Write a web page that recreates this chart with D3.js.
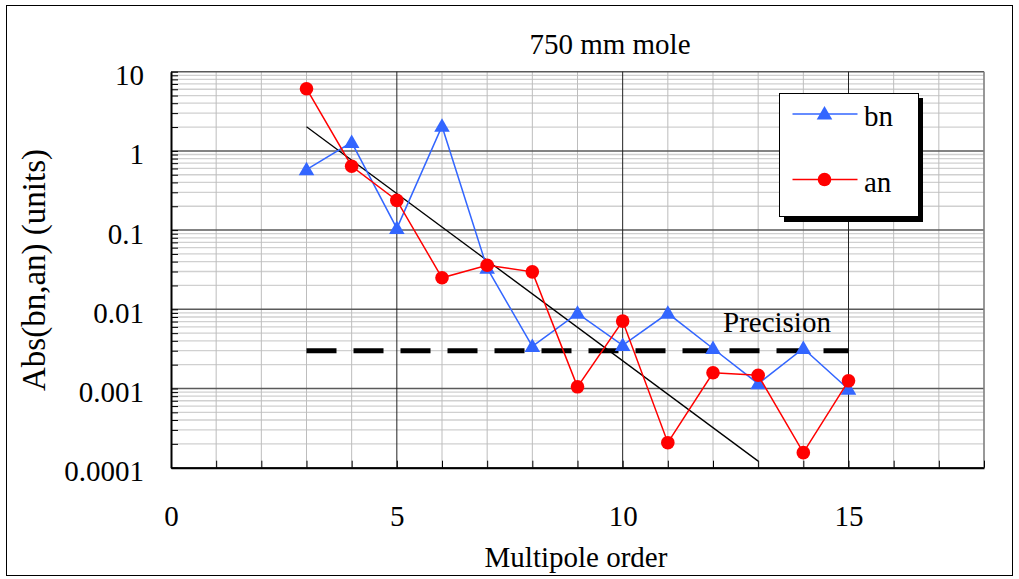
<!DOCTYPE html>
<html>
<head>
<meta charset="utf-8">
<script src="https://cdn.jsdelivr.net/npm/d3@7"></script>
</head>
<body style="margin:0">
<svg id="chart" width="1019" height="579"></svg>
<script>
// ---- data ----
const orders = [3, 4, 5, 6, 7, 8, 9, 10, 11, 12, 13, 14, 15];
const bn = [0.58, 1.28, 0.105, 2.05, 0.033, 0.0034, 0.0089, 0.0035, 0.0089, 0.0032, 0.00115, 0.0032, 0.00098];
const an = [6.1, 0.64, 0.237, 0.025, 0.036, 0.0297, 0.00105, 0.0071, 0.000207, 0.00158, 0.00147, 0.000155, 0.00125];
const fitX = [3, 13];
const fitY = [2.02, 0.000121];
const precisionX = [3, 15];
const precisionY = [0.003, 0.003];
const xTickValues = d3.range(0, 19);
const xTickLabels = ["0", "5", "10", "15"];
const yDecades = [0.0001, 0.001, 0.01, 0.1, 1, 10];
const yTickLabels = ["0.0001", "0.001", "0.01", "0.1", "1", "10"];
const title = "750 mm mole";
const xTitle = "Multipole order";
const yTitle = "Abs(bn,an) (units)";
const seriesNames = ["bn", "an"];

// ---- layout ----
const FONT = "Liberation Serif";
const svg = d3.select("#chart");
const L = 171, R = 984, T = 71.7, B = 467.7;
const x = d3.scaleLinear().domain([0, 18]).range([L, R]);
const y = d3.scaleLog().domain([0.0001, 10]).range([B, T]);
const FS = 29;
const blue = "#3366ff", red = "#ff0000";

function txt(sel, fs) {
  return sel.style("font-family", FONT).attr("font-size", fs || FS).attr("fill", "#000");
}

// outer frame
svg.append("rect").attr("x", 6.5).attr("y", 5.5).attr("width", 1006).attr("height", 570)
  .attr("fill", "#fff").attr("stroke", "#000").attr("stroke-width", 1);

// minor y values
const yMinor = [];
for (let e = -4; e < 1; e++) for (let k = 2; k <= 9; k++) yMinor.push(k * Math.pow(10, e));

const grid = svg.append("g");
grid.selectAll("line.hmin").data(yMinor).enter().append("line")
  .attr("x1", L).attr("x2", R).attr("y1", d => y(d)).attr("y2", d => y(d))
  .attr("stroke", "#d0d0d0").attr("stroke-width", 1.3);
grid.selectAll("line.vmin").data(xTickValues.filter(d => d % 5 !== 0)).enter().append("line")
  .attr("x1", d => x(d)).attr("x2", d => x(d)).attr("y1", T).attr("y2", B)
  .attr("stroke", "#bdbdbd").attr("stroke-width", 1);
grid.selectAll("line.hmaj").data(yDecades).enter().append("line")
  .attr("x1", L).attr("x2", R).attr("y1", d => y(d)).attr("y2", d => y(d))
  .attr("stroke", "#5a5a5a").attr("stroke-width", 1.5);
grid.selectAll("line.vmaj").data([5, 10, 15]).enter().append("line")
  .attr("x1", d => x(d)).attr("x2", d => x(d)).attr("y1", T).attr("y2", B)
  .attr("stroke", "#222").attr("stroke-width", 1);
grid.append("line").attr("x1", R).attr("x2", R).attr("y1", T).attr("y2", B)
  .attr("stroke", "#808080").attr("stroke-width", 1.5);

// axes
const xAxis = d3.axisBottom(x).tickValues(xTickValues).tickSizeInner(-7).tickSizeOuter(0)
  .tickFormat(d => (d % 5 === 0 ? xTickLabels[d / 5] : ""));
const gx = svg.append("g").attr("transform", `translate(0,${B})`).call(xAxis);
gx.attr("font-family", null).attr("font-size", null);
gx.select(".domain").attr("stroke", "#000").attr("stroke-width", 2);
gx.selectAll(".tick line").attr("stroke", "#000");
txt(gx.selectAll(".tick text")).attr("y", 58).attr("dy", 0);

const yAll = yDecades.concat(yMinor);
const yAxis = d3.axisLeft(y).tickValues(yAll).tickSizeInner(-7).tickSizeOuter(0)
  .tickFormat(d => { const i = yDecades.indexOf(d); return i >= 0 ? yTickLabels[i] : ""; });
const gy = svg.append("g").attr("transform", `translate(${L},0)`).call(yAxis);
gy.attr("font-family", null).attr("font-size", null);
gy.select(".domain").attr("stroke", "#000").attr("stroke-width", 2);
gy.selectAll(".tick line").attr("stroke", "#000");
txt(gy.selectAll(".tick text")).attr("x", -27).attr("dy", 13);

// titles
txt(svg.append("text")).attr("x", 610).attr("y", 54).attr("text-anchor", "middle").text(title);
txt(svg.append("text")).attr("x", 576).attr("y", 567).attr("text-anchor", "middle").text(xTitle);
txt(svg.append("text"), 33).attr("transform", "translate(45,270) rotate(-90)").attr("text-anchor", "middle").text(yTitle);

// precision line
const pts = precisionX.map((d, i) => [d, precisionY[i]]);
svg.append("path").attr("d", d3.line().x(d => x(d[0])).y(d => y(d[1]))(pts))
  .attr("stroke", "#000").attr("stroke-width", 5).attr("stroke-dasharray", "30,17").attr("fill", "none");
txt(svg.append("text")).attr("x", 723).attr("y", 332).text("Precision");

// fit line
const fitPts = fitX.map((d, i) => [d, fitY[i]]);
svg.append("path").attr("d", d3.line().x(d => x(d[0])).y(d => y(d[1]))(fitPts))
  .attr("stroke", "#000").attr("stroke-width", 1.3).attr("fill", "none");

// series
const line = d3.line().x(d => x(d[0])).y(d => y(d[1]));
const bnPts = orders.map((d, i) => [d, bn[i]]);
const anPts = orders.map((d, i) => [d, an[i]]);
const tri = d3.symbol().type(d3.symbolTriangle).size(105);

svg.append("path").attr("d", line(bnPts)).attr("stroke", blue).attr("stroke-width", 1.5).attr("fill", "none");
svg.selectAll("path.bnm").data(bnPts).enter().append("path")
  .attr("d", tri).attr("transform", d => `translate(${x(d[0])},${y(d[1]) + 1})`).attr("fill", blue);

svg.append("path").attr("d", line(anPts)).attr("stroke", red).attr("stroke-width", 1.5).attr("fill", "none");
svg.selectAll("circle.anm").data(anPts).enter().append("circle")
  .attr("cx", d => x(d[0])).attr("cy", d => y(d[1])).attr("r", 6.8).attr("fill", red);

// legend
const lg = svg.append("g");
lg.append("rect").attr("x", 784).attr("y", 98).attr("width", 139).attr("height", 124).attr("fill", "#000");
lg.append("rect").attr("x", 779.5).attr("y", 93.5).attr("width", 139).attr("height", 123)
  .attr("fill", "#fff").attr("stroke", "#000").attr("stroke-width", 1);
const legY = [114, 179.5];
const legCol = [blue, red];
seriesNames.forEach((n, i) => {
  lg.append("line").attr("x1", 792.5).attr("x2", 857.5).attr("y1", legY[i]).attr("y2", legY[i])
    .attr("stroke", legCol[i]).attr("stroke-width", 1.5);
  if (i === 0) lg.append("path").attr("d", tri).attr("transform", `translate(824.5,${legY[i] + 1})`).attr("fill", blue);
  else lg.append("circle").attr("cx", 824.5).attr("cy", legY[i]).attr("r", 6.8).attr("fill", red);
  txt(lg.append("text")).attr("x", 864).attr("y", legY[i] + 12).text(n);
});
</script>
</body>
</html>
